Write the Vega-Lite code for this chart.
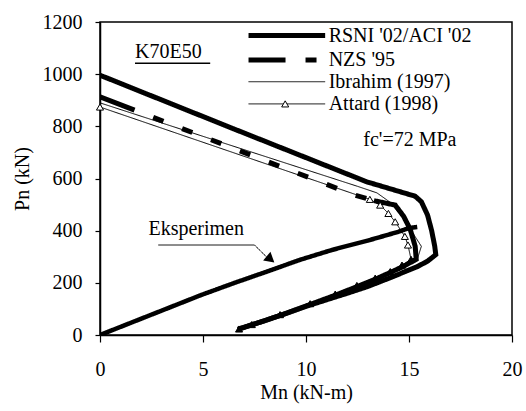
{
  "$schema": "https://vega.github.io/schema/vega-lite/v6.json",
  "autosize": "none",
  "width": 412,
  "height": 313,
  "padding": {"left": 100, "top": 22, "right": 14, "bottom": 76},
  "background": "white",
  "config": {
    "view": {"stroke": "#000", "strokeWidth": 1.5},
    "axis": {
      "grid": false,
      "domainColor": "#000",
      "domainWidth": 1.5,
      "tickColor": "#000",
      "tickWidth": 1.2,
      "labelFont": "Liberation Serif",
      "labelFontSize": 20,
      "labelColor": "#000",
      "titleFont": "Liberation Serif",
      "titleFontSize": 20,
      "titleFontWeight": "normal",
      "titleColor": "#000"
    }
  },
  "datasets": {
    "curves": [
      {"s": "RSNI", "g": "RSNI", "o": 1, "x": 0, "y": 996},
      {"s": "RSNI", "g": "RSNI", "o": 2, "x": 6.5, "y": 790},
      {"s": "RSNI", "g": "RSNI", "o": 3, "x": 12.96, "y": 587},
      {"s": "RSNI", "g": "RSNI", "o": 4, "x": 14.2, "y": 558},
      {"s": "RSNI", "g": "RSNI", "o": 5, "x": 15.3, "y": 532},
      {"s": "RSNI", "g": "RSNI", "o": 6, "x": 15.6, "y": 511},
      {"s": "RSNI", "g": "RSNI", "o": 7, "x": 15.9, "y": 460},
      {"s": "RSNI", "g": "RSNI", "o": 8, "x": 16.1, "y": 400},
      {"s": "RSNI", "g": "RSNI", "o": 9, "x": 16.25, "y": 340},
      {"s": "RSNI", "g": "RSNI", "o": 10, "x": 16.3, "y": 308},
      {"s": "RSNI", "g": "RSNI", "o": 11, "x": 15.9, "y": 283},
      {"s": "RSNI", "g": "RSNI", "o": 12, "x": 15.4, "y": 262},
      {"s": "RSNI", "g": "RSNI", "o": 13, "x": 14.1, "y": 220},
      {"s": "RSNI", "g": "RSNI", "o": 14, "x": 13, "y": 186},
      {"s": "RSNI", "g": "RSNI", "o": 15, "x": 12, "y": 160},
      {"s": "RSNI", "g": "RSNI", "o": 16, "x": 11, "y": 135},
      {"s": "RSNI", "g": "RSNI", "o": 17, "x": 10, "y": 110},
      {"s": "RSNI", "g": "RSNI", "o": 18, "x": 9, "y": 82},
      {"s": "RSNI", "g": "RSNI", "o": 19, "x": 8, "y": 55},
      {"s": "RSNI", "g": "RSNI", "o": 20, "x": 6.7, "y": 22},

      {"s": "NZS", "g": "NZS", "o": 1, "x": 0, "y": 913},
      {"s": "NZS", "g": "NZS", "o": 2, "x": 6, "y": 730},
      {"s": "NZS", "g": "NZS", "o": 3, "x": 12.3, "y": 538},
      {"s": "NZS", "g": "NZS", "o": 4, "x": 13.3, "y": 515},
      {"s": "NZS-b", "g": "NZS-b", "o": 1, "x": 13.3, "y": 515},
      {"s": "NZS-b", "g": "NZS-b", "o": 2, "x": 14.33, "y": 498},
      {"s": "NZS-b", "g": "NZS-b", "o": 3, "x": 14.74, "y": 455},
      {"s": "NZS-b", "g": "NZS-b", "o": 4, "x": 15.06, "y": 405},
      {"s": "NZS-b", "g": "NZS-b", "o": 5, "x": 15.3, "y": 340},
      {"s": "NZS-b", "g": "NZS-b", "o": 6, "x": 15.35, "y": 290},
      {"s": "NZS-b", "g": "NZS-b", "o": 7, "x": 14.7, "y": 262},
      {"s": "NZS-b", "g": "NZS-b", "o": 8, "x": 14.1, "y": 240},
      {"s": "NZS-b", "g": "NZS-b", "o": 9, "x": 13.4, "y": 215},
      {"s": "NZS-b", "g": "NZS-b", "o": 10, "x": 12.5, "y": 186},
      {"s": "NZS-b", "g": "NZS-b", "o": 11, "x": 11.4, "y": 152},
      {"s": "NZS-b", "g": "NZS-b", "o": 12, "x": 10.2, "y": 117},
      {"s": "NZS-b", "g": "NZS-b", "o": 13, "x": 9, "y": 82},
      {"s": "NZS-b", "g": "NZS-b", "o": 14, "x": 8, "y": 55},
      {"s": "NZS-b", "g": "NZS-b", "o": 15, "x": 6.7, "y": 22},

      {"s": "Ibrahim", "g": "Ibrahim", "o": 1, "x": 0, "y": 890},
      {"s": "Ibrahim", "g": "Ibrahim", "o": 2, "x": 6, "y": 736},
      {"s": "Ibrahim", "g": "Ibrahim", "o": 3, "x": 12.5, "y": 570},
      {"s": "Ibrahim", "g": "Ibrahim", "o": 4, "x": 13.44, "y": 545},
      {"s": "Ibrahim", "g": "Ibrahim", "o": 5, "x": 14.1, "y": 508},
      {"s": "Ibrahim", "g": "Ibrahim", "o": 6, "x": 14.7, "y": 450},
      {"s": "Ibrahim", "g": "Ibrahim", "o": 7, "x": 15.2, "y": 389},
      {"s": "Ibrahim", "g": "Ibrahim", "o": 8, "x": 15.6, "y": 340},
      {"s": "Ibrahim", "g": "Ibrahim", "o": 9, "x": 15.4, "y": 290},
      {"s": "Ibrahim", "g": "Ibrahim", "o": 10, "x": 14.8, "y": 268},
      {"s": "Ibrahim", "g": "Ibrahim", "o": 11, "x": 14.1, "y": 242},
      {"s": "Ibrahim", "g": "Ibrahim", "o": 12, "x": 12.5, "y": 190},
      {"s": "Ibrahim", "g": "Ibrahim", "o": 13, "x": 10.2, "y": 120},
      {"s": "Ibrahim", "g": "Ibrahim", "o": 14, "x": 8, "y": 58},
      {"s": "Ibrahim", "g": "Ibrahim", "o": 15, "x": 6.8, "y": 25},

      {"s": "Attard", "g": "Attard", "o": 1, "x": 0, "y": 874},
      {"s": "Attard", "g": "Attard", "o": 2, "x": 13.1, "y": 520},
      {"s": "Attard", "g": "Attard", "o": 3, "x": 13.6, "y": 498},
      {"s": "Attard", "g": "Attard", "o": 4, "x": 14.0, "y": 466},
      {"s": "Attard", "g": "Attard", "o": 5, "x": 14.33, "y": 434},
      {"s": "Attard", "g": "Attard", "o": 6, "x": 14.8, "y": 378},
      {"s": "Attard", "g": "Attard", "o": 7, "x": 14.95, "y": 345},
      {"s": "Attard", "g": "Attard", "o": 8, "x": 15.1, "y": 290},
      {"s": "Attard", "g": "Attard", "o": 9, "x": 14.66, "y": 268},
      {"s": "Attard", "g": "Attard", "o": 10, "x": 14.09, "y": 243},
      {"s": "Attard", "g": "Attard", "o": 11, "x": 13.36, "y": 218},
      {"s": "Attard", "g": "Attard", "o": 12, "x": 12.47, "y": 190},
      {"s": "Attard", "g": "Attard", "o": 13, "x": 11.42, "y": 157},
      {"s": "Attard", "g": "Attard", "o": 14, "x": 10.2, "y": 120},
      {"s": "Attard", "g": "Attard", "o": 15, "x": 8.74, "y": 78},
      {"s": "Attard", "g": "Attard", "o": 16, "x": 7.37, "y": 40},
      {"s": "Attard", "g": "Attard", "o": 17, "x": 6.75, "y": 23},

      {"s": "Eksperimen", "g": "Eksperimen", "o": 1, "x": 0, "y": 0},
      {"s": "Eksperimen", "g": "Eksperimen", "o": 2, "x": 1.6, "y": 50},
      {"s": "Eksperimen", "g": "Eksperimen", "o": 3, "x": 3.3, "y": 103},
      {"s": "Eksperimen", "g": "Eksperimen", "o": 4, "x": 4.9, "y": 153},
      {"s": "Eksperimen", "g": "Eksperimen", "o": 5, "x": 6.5, "y": 199},
      {"s": "Eksperimen", "g": "Eksperimen", "o": 6, "x": 8.1, "y": 243},
      {"s": "Eksperimen", "g": "Eksperimen", "o": 7, "x": 9.7, "y": 288},
      {"s": "Eksperimen", "g": "Eksperimen", "o": 8, "x": 11.3, "y": 327},
      {"s": "Eksperimen", "g": "Eksperimen", "o": 9, "x": 13, "y": 362},
      {"s": "Eksperimen", "g": "Eksperimen", "o": 10, "x": 14.5, "y": 396},
      {"s": "Eksperimen", "g": "Eksperimen", "o": 11, "x": 15.0, "y": 410},
      {"s": "Eksperimen", "g": "Eksperimen", "o": 12, "x": 15.4, "y": 414},

      {"s": "RSNI", "g": "RSNI-leg", "o": 1, "x": 7.21, "y": 1148},
      {"s": "RSNI", "g": "RSNI-leg", "o": 2, "x": 10.93, "y": 1148},
      {"s": "NZS", "g": "NZS-leg", "o": 1, "x": 7.21, "y": 1054},
      {"s": "NZS", "g": "NZS-leg", "o": 2, "x": 10.93, "y": 1054},
      {"s": "Ibrahim", "g": "Ibrahim-leg", "o": 1, "x": 7.21, "y": 971},
      {"s": "Ibrahim", "g": "Ibrahim-leg", "o": 2, "x": 10.93, "y": 971},
      {"s": "Attard", "g": "Attard-leg", "o": 1, "x": 7.21, "y": 886},
      {"s": "Attard", "g": "Attard-leg", "o": 2, "x": 10.93, "y": 886},

      {"s": "leader", "g": "leader", "o": 1, "x": 2.83, "y": 345},
      {"s": "leader", "g": "leader", "o": 2, "x": 7.5, "y": 345},
      {"s": "leader", "g": "leader", "o": 3, "x": 8.1, "y": 298},
      {"s": "underline", "g": "underline", "o": 1, "x": 1.7, "y": 1042},
      {"s": "underline", "g": "underline", "o": 2, "x": 5.35, "y": 1042}
    ],
    "markers": [
      {"b": "upper", "x": 0, "y": 874},
      {"b": "upper", "x": 13.1, "y": 520},
      {"b": "upper", "x": 13.6, "y": 498},
      {"b": "upper", "x": 14.0, "y": 466},
      {"b": "upper", "x": 14.33, "y": 434},
      {"b": "upper", "x": 14.8, "y": 378},
      {"b": "upper", "x": 14.95, "y": 345},
      {"b": "upper", "x": 8.99, "y": 886},
      {"b": "lower", "x": 15.1, "y": 290},
      {"b": "lower", "x": 14.66, "y": 268},
      {"b": "lower", "x": 14.09, "y": 243},
      {"b": "lower", "x": 13.36, "y": 218},
      {"b": "lower", "x": 12.47, "y": 190},
      {"b": "lower", "x": 11.42, "y": 157},
      {"b": "lower", "x": 10.2, "y": 120},
      {"b": "lower", "x": 8.74, "y": 78},
      {"b": "lower", "x": 7.37, "y": 40},
      {"b": "lower", "x": 6.75, "y": 23}
    ],
    "head": [
      {"x": 8.28, "y": 290}
    ],
    "labels": [
      {"t": "K70E50", "x": 1.7, "y": 1086},
      {"t": "RSNI '02/ACI '02", "x": 11.1, "y": 1148},
      {"t": "NZS '95", "x": 11.1, "y": 1054},
      {"t": "Ibrahim (1997)", "x": 11.1, "y": 971},
      {"t": "Attard (1998)", "x": 11.1, "y": 886},
      {"t": "fc'=72 MPa", "x": 12.78, "y": 748},
      {"t": "Eksperimen", "x": 2.35, "y": 406}
    ]
  },
  "encoding": {
    "x": {
      "field": "x", "type": "quantitative",
      "scale": {"domain": [0, 20], "nice": false, "zero": false},
      "axis": {"values": [0, 5, 10, 15, 20], "format": "d", "tickSize": 7, "labelPadding": 17, "title": "Mn (kN-m)", "titlePadding": 3, "labelFlush": false,
        "labelFont": "Liberation Serif", "titleFont": "Liberation Serif"}
    },
    "y": {
      "field": "y", "type": "quantitative",
      "scale": {"domain": [0, 1200], "nice": false, "zero": false},
      "axis": {"values": [0, 200, 400, 600, 800, 1000, 1200], "format": "d", "tickSize": 5, "labelPadding": 13, "title": "Pn (kN)", "titlePadding": 10, "labelFlush": false,
        "labelFont": "Liberation Serif", "titleFont": "Liberation Serif"}
    }
  },
  "layer": [
    {
      "data": {"name": "curves"},
      "mark": {"type": "line", "color": "#000", "clip": true},
      "encoding": {
        "detail": {"field": "g"},
        "order": {"field": "o", "type": "quantitative"},
        "strokeWidth": {
          "field": "s", "type": "nominal", "legend": null,
          "scale": {
            "type": "ordinal",
            "domain": ["RSNI", "NZS", "NZS-b", "Ibrahim", "Attard", "Eksperimen", "leader", "underline"],
            "range": [5, 5, 5, 1, 1, 4.5, 1, 1.5]
          }
        },
        "strokeDash": {
          "field": "s", "type": "nominal", "legend": null,
          "scale": {
            "type": "ordinal",
            "domain": ["RSNI", "NZS", "NZS-b", "Ibrahim", "Attard", "Eksperimen", "leader", "underline"],
            "range": [[1, 0], [37, 20, 11, 20, 11, 20, 11, 20, 11, 20, 11, 20, 11, 20, 11, 20, 11, 20, 11, 20, 11, 20, 11, 20, 11, 20, 11, 20, 11, 20, 11, 20], [1, 0], [1, 0], [1, 0], [1, 0], [1, 0], [1, 0]]
          }
        }
      }
    },
    {
      "data": {"name": "markers"},
      "mark": {"type": "point", "shape": "triangle-up", "size": 50, "stroke": "#000", "strokeWidth": 1, "opacity": 1},
      "encoding": {
        "fill": {
          "field": "b", "type": "nominal", "legend": null,
          "scale": {"domain": ["upper", "lower"], "range": ["#fff", "#000"]}
        }
      }
    },
    {
      "data": {"name": "head"},
      "mark": {"type": "point", "shape": "triangle-right", "angle": 40, "size": 130, "filled": true, "color": "#000", "opacity": 1}
    },
    {
      "data": {"name": "labels"},
      "mark": {"type": "text", "align": "left", "baseline": "middle", "font": "Liberation Serif", "fontSize": 20, "color": "#000"},
      "encoding": {"text": {"field": "t"}}
    }
  ]
}
